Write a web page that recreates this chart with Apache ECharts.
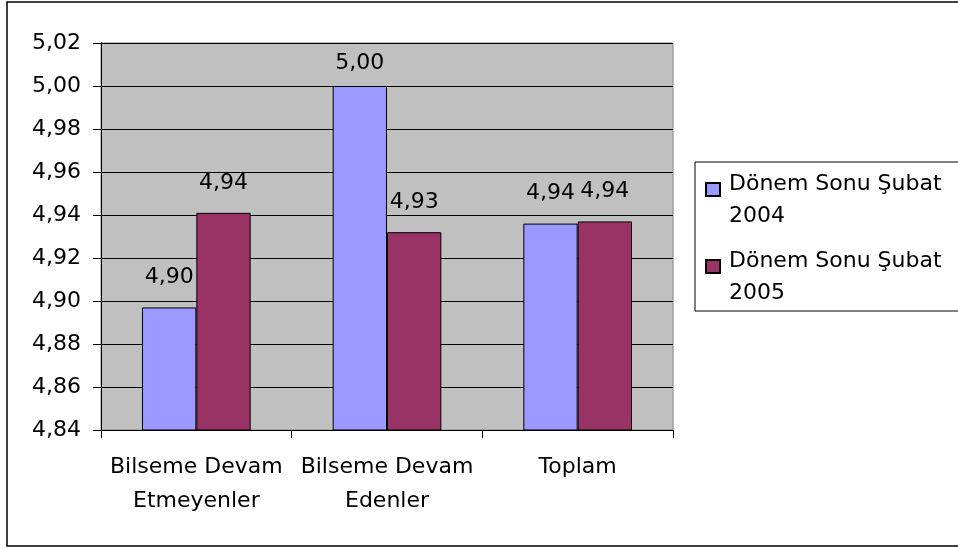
<!DOCTYPE html>
<html>
<head>
<meta charset="utf-8">
<script src="https://cdn.jsdelivr.net/npm/echarts@6/dist/echarts.min.js"></script>
<style>
html,body{margin:0;padding:0;background:#fff;}
#chart{width:958px;height:549px;}
</style>
</head>
<body>
<div id="chart"></div>
<script>
var categories = ['Bilseme Devam\nEtmeyenler', 'Bilseme Devam\nEdenler', 'Toplam'];
var seriesNames = ['Dönem Sonu Şubat\n2004', 'Dönem Sonu Şubat\n2005'];
var values2004 = [4.897, 5.000, 4.936];
var values2005 = [4.941, 4.932, 4.937];
var yTicks = { min: 4.84, max: 5.02, interval: 0.02 };

var FONT = 'DejaVu Sans';
var FS = 22;
function fmt(v) { return Number(v).toFixed(2).replace('.', ','); }

// legend icon: square placed at first text line, transparent extent for full item height
var legendIcon = 'path://M0,0L0,0M0,15h14v13h-14zM14,64L14,64';

function makeData(arr) {
  return arr.map(function (v) {
    // keep label inside plot area like the original
    var d = (v > yTicks.max - 0.025) ? 12 : 19;
    return { value: v, label: { distance: d } };
  });
}

var chart = echarts.init(document.getElementById('chart'), null, { renderer: 'canvas' });
var colors = ['#9999ff', '#993366'];
var option = {
  animation: false,
  textStyle: { fontFamily: FONT },
  graphic: [{
    type: 'rect',
    shape: { x: 7, y: 2, width: 960, height: 544 },
    style: { fill: 'none', stroke: '#000', lineWidth: 1.5 },
    z: -10
  }],
  grid: {
    left: 101, top: 43, right: 285, bottom: 119,
    show: true, backgroundColor: '#c0c0c0', borderColor: '#808080', borderWidth: 1
  },
  legend: {
    orient: 'vertical',
    left: 695, top: 162,
    padding: [5, 60, 1, 10],
    itemGap: 11,
    itemWidth: 14, itemHeight: 64,
    borderColor: '#000', borderWidth: 1,
    backgroundColor: '#fff',
    icon: legendIcon,
    textStyle: { fontFamily: FONT, fontSize: FS, color: '#000', lineHeight: 32, padding: [0, 0, 0, 4] },
    data: seriesNames.map(function (n) { return { name: n, icon: legendIcon }; })
  },
  xAxis: {
    type: 'category',
    data: categories,
    axisLine: { lineStyle: { color: '#000', width: 1 } },
    axisTick: { show: true, length: 8, lineStyle: { color: '#000' } },
    axisLabel: { fontFamily: FONT, fontSize: FS, color: '#000', lineHeight: 34, margin: 20, interval: 0 },
    splitLine: { show: false }
  },
  yAxis: {
    type: 'value',
    min: yTicks.min, max: yTicks.max, interval: yTicks.interval,
    axisLine: { show: true, lineStyle: { color: '#000', width: 1 } },
    axisTick: { show: true, length: 8, lineStyle: { color: '#000' } },
    axisLabel: { fontFamily: FONT, fontSize: FS, color: '#000', margin: 20, formatter: fmt },
    splitLine: { show: true, lineStyle: { color: '#000', width: 1 } }
  },
  series: [values2004, values2005].map(function (vals, i) {
    return {
      name: seriesNames[i],
      type: 'bar',
      data: makeData(vals),
      barGap: '0%',
      barCategoryGap: '43%',
      itemStyle: { color: colors[i], borderColor: '#000', borderWidth: 1 },
      label: {
        show: true, position: 'top', distance: 19,
        fontFamily: FONT, fontSize: FS, color: '#000',
        formatter: function (p) { return fmt(p.value); }
      }
    };
  })
};
chart.setOption(option);
</script>
</body>
</html>
